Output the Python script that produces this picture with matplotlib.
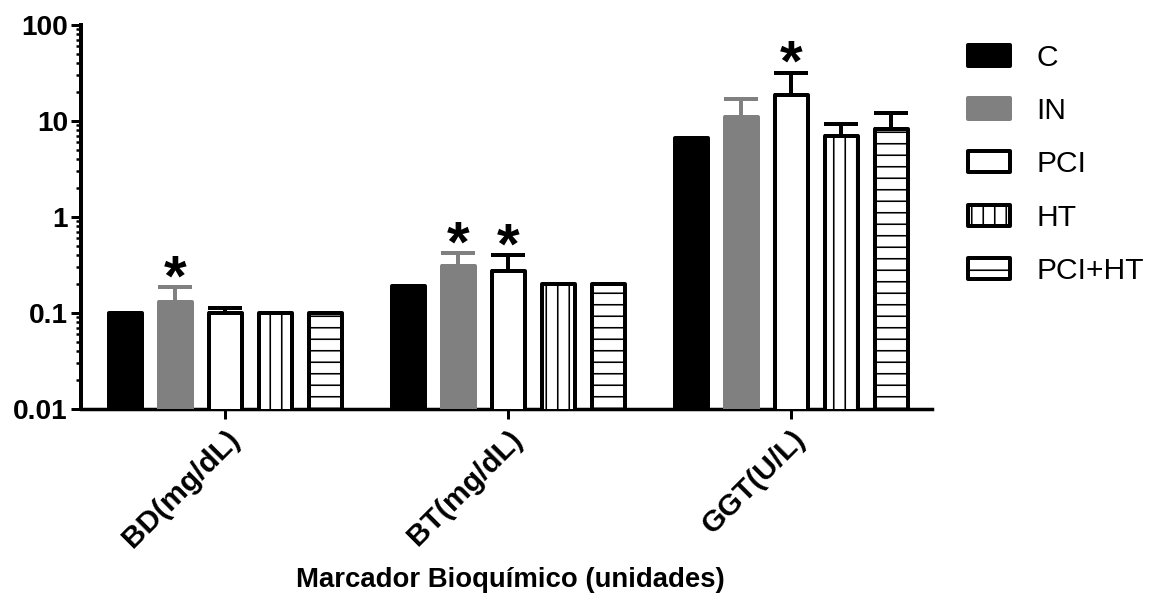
import matplotlib
matplotlib.use('Agg')
import matplotlib.pyplot as plt
import numpy as np
from matplotlib.patches import Patch

# ---------------- data ----------------
categories = ['BD(mg/dL)', 'BT(mg/dL)', 'GGT(U/L)']
groups = ['C', 'IN', 'PCI', 'HT', 'PCI+HT']
val_C = [0.1, 0.19, 6.7]
val_IN = [0.13, 0.31, 11.0]
val_PCI = [0.1, 0.275, 18.5]
val_HT = [0.1, 0.2, 6.9]
val_PCIHT = [0.1, 0.2, 8.3]
err_C = [0, 0, 0]
err_IN = [0.055, 0.11, 5.8]
err_PCI = [0.012, 0.125, 13.5]
err_HT = [0, 0, 2.5]
err_PCIHT = [0, 0, 3.9]
sig_C = [False, False, False]
sig_IN = [True, True, False]
sig_PCI = [False, True, True]
sig_HT = [False, False, False]
sig_PCIHT = [False, False, False]
y_ticks = [0.01, 0.1, 1, 10, 100]
y_ticklabels = ['0.01', '0.1', '1', '10', '100']
x_label = 'Marcador Bioquímico (unidades)'

values = [val_C, val_IN, val_PCI, val_HT, val_PCIHT]
errors = [err_C, err_IN, err_PCI, err_HT, err_PCIHT]
sigs = [sig_C, sig_IN, sig_PCI, sig_HT, sig_PCIHT]

# ---------------- style ----------------
DPI = 69
W, H = 1149, 598
def px(v):
    return v * 72.0 / DPI

plt.rcParams['font.family'] = ['Liberation Sans', 'DejaVu Sans']
plt.rcParams['hatch.linewidth'] = px(1.6)

faces = ['black', '#808080', 'white', 'white', 'white']
edges = ['black', '#808080', 'black', 'black', 'black']
hatches = [None, None, None, '|', '-']

fig = plt.figure(figsize=(W / DPI, H / DPI), dpi=DPI)
ax = fig.add_axes([81 / W, 1 - 409 / H, (932 - 81) / W, (409 - 25) / H])

pitch = 50 / 283.0
bw = 33 / 283.0
xc = np.arange(len(categories))

for j in range(len(groups)):
    xs = xc + (j - 2) * pitch
    bars = ax.bar(xs, values[j], width=bw, color=faces[j], edgecolor=edges[j],
                  hatch=hatches[j], linewidth=px(4), zorder=3)
    for b in bars:
        b.set_joinstyle('round')
    e = np.array(errors[j], dtype=float)
    v = np.array(values[j], dtype=float)
    m = e > 0
    if m.any():
        ax.errorbar(xs[m], v[m], yerr=[np.zeros(m.sum()), e[m]], fmt='none',
                    ecolor=edges[j], elinewidth=px(4), capsize=px(17),
                    capthick=px(4), zorder=2)
    for i in range(len(categories)):
        if sigs[j][i]:
            top = v[i] + e[i]
            ax.annotate('*', xy=(xs[i], top), xytext=(0, px(-8)),
                        textcoords='offset points', ha='center', va='baseline',
                        fontsize=px(58), fontweight='bold', color='black',
                        annotation_clip=False)

ax.set_yscale('log')
ax.set_ylim(0.01, 100)
ax.set_xlim(-0.509, 2.498)
ax.set_yticks(y_ticks)
ax.set_yticklabels(y_ticklabels, fontsize=px(28), fontweight='bold')
ax.set_xticks(xc)
ax.set_xticklabels(categories, fontsize=px(30), fontweight='bold',
                   rotation=45, ha='right', va='top', rotation_mode='anchor')
ax.tick_params(axis='y', which='major', length=px(10), width=px(3), pad=px(3))
ax.tick_params(axis='y', which='minor', length=px(5), width=px(2.5))
ax.tick_params(axis='x', which='major', length=px(10), width=px(3), pad=px(6))
ax.tick_params(axis='x', which='minor', length=0)

for s in ['top', 'right']:
    ax.spines[s].set_visible(False)
ax.spines['left'].set_linewidth(px(4))
ax.spines['bottom'].set_linewidth(px(3.5))

ax.set_xlabel(x_label, fontsize=px(27.5), fontweight='bold')
ax.xaxis.set_label_coords((510 - 81) / 851.0, (409 - 567) / 384.0)
ax.xaxis.label.set_va('top')

handles = [Patch(facecolor=faces[j], edgecolor=edges[j], hatch=hatches[j],
                 linewidth=px(4)) for j in range(len(groups))]
fs_leg = 30
leg = fig.legend(handles, groups, loc='upper left',
                 bbox_to_anchor=(968 / W, 1 - 44 / H), frameon=False,
                 fontsize=px(fs_leg), handlelength=42 / fs_leg,
                 handleheight=21 / fs_leg, handletextpad=0.88,
                 labelspacing=0.84, borderpad=0, borderaxespad=0)
for p in leg.get_patches():
    p.set_joinstyle('round')

fig.savefig('out.png', dpi=DPI)
